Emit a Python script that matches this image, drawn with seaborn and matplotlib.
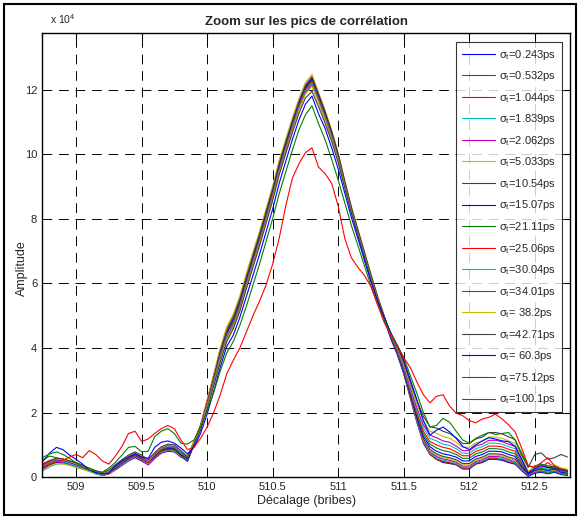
import numpy as np
import pandas as pd
import seaborn as sns
import matplotlib.pyplot as plt
from matplotlib.lines import Line2D
from matplotlib.patches import Rectangle

# decalage axis in bribes, one sample every 0.05 (81 samples)
decalage = np.linspace(508.75, 512.75, 81)

# amplitudes in units of 1e4
s_0243 = [0.25, 0.38, 0.45, 0.44, 0.40, 0.33, 0.28, 0.20, 0.12, 0.05,
          0.10, 0.22, 0.36, 0.50, 0.60, 0.50, 0.38, 0.58, 0.74, 0.80,
          0.78, 0.62, 0.52, 1.00, 1.50, 2.25, 3.05, 3.85, 4.50, 4.90,
          5.45, 6.15, 6.80, 7.45, 8.15, 8.85, 9.65, 10.30, 10.95, 11.55,
          12.05, 12.30, 11.75, 11.20, 10.60, 9.90, 9.05, 8.25, 7.55, 6.85,
          6.15, 5.50, 4.90, 4.30, 3.80, 3.20, 2.45, 1.70, 1.05, 0.70,
          0.55, 0.45, 0.42, 0.38, 0.25, 0.25, 0.40, 0.45, 0.55, 0.55,
          0.52, 0.45, 0.40, 0.20, 0.02, 0.12, 0.15, 0.10, 0.15, 0.08,
          0.05]
s_0532 = [0.55, 0.65, 0.60, 0.55, 0.48, 0.40, 0.32, 0.18, 0.10, 0.08,
          0.14, 0.28, 0.42, 0.58, 0.68, 0.58, 0.45, 0.66, 0.82, 0.88,
          0.85, 0.68, 0.58, 1.10, 1.60, 2.35, 3.10, 3.95, 4.60, 5.00,
          5.55, 6.25, 6.90, 7.55, 8.25, 8.95, 9.75, 10.40, 11.05, 11.65,
          12.10, 12.35, 11.85, 11.30, 10.70, 10.00, 9.15, 8.35, 7.65, 6.95,
          6.25, 5.60, 5.00, 4.40, 3.90, 3.28, 2.52, 1.78, 1.12, 0.72,
          0.55, 0.48, 0.44, 0.38, 0.28, 0.28, 0.42, 0.48, 0.58, 0.58,
          0.55, 0.48, 0.42, 0.22, 0.04, 0.14, 0.18, 0.12, 0.18, 0.10,
          0.08]
s_1044 = [0.40, 0.50, 0.55, 0.52, 0.45, 0.38, 0.30, 0.22, 0.14, 0.04,
          0.10, 0.24, 0.38, 0.52, 0.62, 0.52, 0.40, 0.60, 0.76, 0.82,
          0.80, 0.63, 0.55, 1.08, 1.62, 2.38, 3.15, 3.95, 4.62, 5.00,
          5.55, 6.25, 6.90, 7.55, 8.25, 8.95, 9.75, 10.40, 11.05, 11.65,
          12.12, 12.40, 11.85, 11.30, 10.70, 10.00, 9.15, 8.35, 7.65, 6.95,
          6.25, 5.60, 5.00, 4.40, 3.88, 3.28, 2.52, 1.76, 1.10, 0.72,
          0.56, 0.48, 0.45, 0.40, 0.28, 0.28, 0.42, 0.48, 0.58, 0.58,
          0.55, 0.48, 0.43, 0.24, 0.05, 0.20, 0.25, 0.30, 0.22, 0.15,
          0.12]
s_1839 = [0.20, 0.32, 0.40, 0.42, 0.38, 0.30, 0.25, 0.18, 0.10, 0.06,
          0.12, 0.24, 0.38, 0.52, 0.62, 0.54, 0.40, 0.60, 0.76, 0.83,
          0.80, 0.64, 0.54, 1.04, 1.55, 2.30, 3.10, 3.90, 4.55, 4.95,
          5.50, 6.20, 6.85, 7.50, 8.20, 8.92, 9.72, 10.38, 11.02, 11.62,
          12.12, 12.38, 11.82, 11.28, 10.68, 9.98, 9.12, 8.32, 7.62, 6.92,
          6.22, 5.57, 4.97, 4.37, 3.86, 3.26, 2.50, 1.75, 1.10, 0.74,
          0.60, 0.52, 0.48, 0.42, 0.30, 0.30, 0.45, 0.50, 0.60, 0.60,
          0.58, 0.50, 0.45, 0.25, 0.06, 0.16, 0.20, 0.16, 0.20, 0.12,
          0.10]
s_2062 = [0.28, 0.40, 0.48, 0.46, 0.40, 0.34, 0.28, 0.20, 0.12, 0.05,
          0.11, 0.24, 0.38, 0.53, 0.63, 0.53, 0.38, 0.58, 0.76, 0.84,
          0.81, 0.64, 0.50, 1.02, 1.52, 2.28, 3.08, 3.88, 4.52, 4.92,
          5.48, 6.18, 6.83, 7.48, 8.18, 8.90, 9.70, 10.36, 11.02, 11.64,
          12.15, 12.40, 11.85, 11.30, 10.68, 9.98, 9.12, 8.32, 7.62, 6.92,
          6.22, 5.57, 4.97, 4.37, 3.86, 3.26, 2.50, 1.76, 1.12, 0.78,
          0.64, 0.56, 0.52, 0.46, 0.34, 0.34, 0.48, 0.54, 0.64, 0.64,
          0.62, 0.54, 0.48, 0.26, 0.06, 0.15, 0.20, 0.16, 0.20, 0.12,
          0.10]
s_5033 = [0.22, 0.34, 0.42, 0.40, 0.36, 0.30, 0.24, 0.18, 0.12, 0.06,
          0.12, 0.25, 0.40, 0.55, 0.65, 0.55, 0.42, 0.62, 0.78, 0.85,
          0.82, 0.65, 0.55, 1.05, 1.58, 2.35, 3.18, 4.00, 4.65, 5.05,
          5.62, 6.32, 6.98, 7.62, 8.32, 9.02, 9.82, 10.48, 11.12, 11.72,
          12.22, 12.48, 11.92, 11.36, 10.76, 10.05, 9.20, 8.40, 7.70, 7.00,
          6.30, 5.62, 5.00, 4.40, 3.88, 3.28, 2.52, 1.78, 1.15, 0.82,
          0.68, 0.60, 0.56, 0.50, 0.38, 0.38, 0.52, 0.58, 0.68, 0.68,
          0.66, 0.58, 0.52, 0.28, 0.08, 0.18, 0.22, 0.18, 0.22, 0.14,
          0.12]
s_1054 = [0.32, 0.44, 0.52, 0.50, 0.44, 0.38, 0.32, 0.24, 0.16, 0.08,
          0.14, 0.26, 0.42, 0.56, 0.66, 0.56, 0.44, 0.62, 0.80, 0.86,
          0.84, 0.66, 0.48, 1.00, 1.52, 2.28, 3.08, 3.88, 4.52, 4.92,
          5.48, 6.18, 6.84, 7.50, 8.20, 8.90, 9.70, 10.35, 11.00, 11.60,
          12.10, 12.38, 11.86, 11.32, 10.70, 10.00, 9.15, 8.35, 7.65, 6.95,
          6.25, 5.58, 4.98, 4.38, 3.86, 3.26, 2.52, 1.80, 1.18, 0.86,
          0.72, 0.64, 0.60, 0.54, 0.42, 0.42, 0.56, 0.62, 0.72, 0.72,
          0.70, 0.62, 0.56, 0.30, 0.10, 0.35, 0.40, 0.30, 0.35, 0.25,
          0.20]
s_1507 = [0.35, 0.46, 0.55, 0.52, 0.46, 0.40, 0.32, 0.22, 0.14, 0.08,
          0.16, 0.30, 0.45, 0.60, 0.70, 0.60, 0.46, 0.66, 0.84, 0.90,
          0.88, 0.70, 0.56, 1.05, 1.52, 2.25, 3.02, 3.80, 4.45, 4.85,
          5.40, 6.10, 6.76, 7.42, 8.12, 8.82, 9.62, 10.28, 10.94, 11.55,
          12.05, 12.32, 11.80, 11.25, 10.65, 9.95, 9.12, 8.32, 7.62, 6.92,
          6.22, 5.56, 4.96, 4.38, 3.88, 3.30, 2.58, 1.88, 1.26, 0.94,
          0.80, 0.72, 0.68, 0.62, 0.50, 0.50, 0.64, 0.70, 0.80, 0.80,
          0.78, 0.70, 0.64, 0.34, 0.08, 0.20, 0.25, 0.20, 0.25, 0.15,
          0.12]
s_2111 = [0.38, 0.48, 0.56, 0.54, 0.48, 0.42, 0.34, 0.24, 0.16, 0.10,
          0.18, 0.32, 0.48, 0.62, 0.72, 0.62, 0.48, 0.68, 0.86, 0.92,
          0.90, 0.72, 0.60, 1.08, 1.55, 2.25, 3.00, 3.78, 4.42, 4.82,
          5.36, 6.06, 6.72, 7.38, 8.08, 8.78, 9.58, 10.24, 10.90, 11.52,
          12.02, 12.28, 11.76, 11.22, 10.62, 9.92, 9.10, 8.30, 7.60, 6.90,
          6.20, 5.55, 4.96, 4.38, 3.90, 3.33, 2.62, 1.94, 1.34, 1.02,
          0.90, 0.82, 0.78, 0.70, 0.58, 0.58, 0.72, 0.78, 0.88, 0.88,
          0.86, 0.78, 0.72, 0.40, 0.10, 0.22, 0.28, 0.22, 0.28, 0.18,
          0.15]
s_2506 = [0.42, 0.52, 0.58, 0.56, 0.50, 0.45, 0.36, 0.26, 0.18, 0.10,
          0.16, 0.30, 0.46, 0.60, 0.70, 0.60, 0.46, 0.68, 0.86, 0.94,
          0.92, 0.74, 0.62, 1.10, 1.58, 2.28, 3.00, 3.76, 4.40, 4.78,
          5.32, 6.02, 6.68, 7.34, 8.04, 8.74, 9.54, 10.20, 10.86, 11.48,
          11.98, 12.24, 11.72, 11.18, 10.58, 9.88, 9.06, 8.28, 7.58, 6.88,
          6.18, 5.54, 4.96, 4.40, 3.92, 3.36, 2.66, 2.00, 1.42, 1.10,
          1.00, 0.92, 0.88, 0.78, 0.66, 0.66, 0.80, 0.86, 0.96, 0.96,
          0.94, 0.86, 0.80, 0.45, 0.12, 0.25, 0.30, 0.45, 0.30, 0.20,
          0.18]
s_3004 = [0.30, 0.42, 0.50, 0.48, 0.42, 0.36, 0.30, 0.22, 0.14, 0.08,
          0.16, 0.32, 0.48, 0.62, 0.72, 0.62, 0.48, 0.70, 0.88, 0.96,
          0.94, 0.76, 0.62, 1.08, 1.55, 2.22, 2.95, 3.72, 4.36, 4.74,
          5.28, 5.98, 6.64, 7.30, 8.00, 8.70, 9.50, 10.16, 10.82, 11.44,
          11.94, 12.20, 11.68, 11.14, 10.55, 9.86, 9.04, 8.26, 7.56, 6.86,
          6.16, 5.53, 4.96, 4.42, 3.95, 3.40, 2.72, 2.08, 1.52, 1.20,
          1.12, 1.02, 0.98, 0.88, 0.74, 0.74, 0.88, 0.94, 1.05, 1.05,
          1.02, 0.94, 0.88, 0.50, 0.14, 0.24, 0.30, 0.25, 0.30, 0.20,
          0.18]
s_3401 = [0.34, 0.46, 0.54, 0.52, 0.46, 0.40, 0.32, 0.24, 0.16, 0.10,
          0.18, 0.34, 0.50, 0.64, 0.74, 0.64, 0.50, 0.72, 0.90, 0.98,
          0.96, 0.78, 0.64, 1.08, 1.52, 2.18, 2.90, 3.66, 4.30, 4.70,
          5.24, 5.94, 6.60, 7.26, 7.96, 8.66, 9.46, 10.12, 10.78, 11.40,
          11.90, 12.15, 11.64, 11.10, 10.52, 9.84, 9.02, 8.24, 7.54, 6.84,
          6.14, 5.52, 4.96, 4.44, 3.98, 3.44, 2.78, 2.16, 1.62, 1.30,
          1.22, 1.12, 1.08, 0.96, 0.82, 0.82, 0.96, 1.02, 1.14, 1.14,
          1.10, 1.02, 0.95, 0.55, 0.16, 0.30, 0.38, 0.30, 0.36, 0.26,
          0.22]
s_382 = [0.36, 0.48, 0.56, 0.54, 0.48, 0.42, 0.34, 0.26, 0.18, 0.12,
         0.20, 0.36, 0.52, 0.66, 0.76, 0.66, 0.52, 0.74, 0.92, 1.00,
         0.98, 0.80, 0.66, 1.08, 1.50, 2.15, 2.86, 3.62, 4.26, 4.66,
         5.20, 5.90, 6.56, 7.22, 7.92, 8.62, 9.42, 10.08, 10.74, 11.36,
         11.86, 12.10, 11.60, 11.06, 10.48, 9.80, 9.00, 8.22, 7.52, 6.82,
         6.12, 5.51, 4.96, 4.46, 4.02, 3.50, 2.86, 2.26, 1.74, 1.42,
         1.36, 1.26, 1.20, 1.08, 0.92, 0.92, 1.06, 1.12, 1.24, 1.24,
         1.20, 1.12, 1.04, 0.60, 0.18, 0.32, 0.40, 0.32, 0.38, 0.28,
         0.24]
s_4271 = [0.38, 0.50, 0.58, 0.56, 0.50, 0.44, 0.36, 0.28, 0.20, 0.14,
          0.22, 0.38, 0.54, 0.68, 0.78, 0.68, 0.54, 0.76, 0.94, 1.02,
          1.00, 0.82, 0.62, 1.02, 1.45, 2.10, 2.82, 3.56, 4.20, 4.60,
          5.14, 5.84, 6.50, 7.16, 7.86, 8.56, 9.36, 10.02, 10.66, 11.26,
          11.74, 11.95, 11.48, 10.96, 10.40, 9.74, 8.96, 8.20, 7.50, 6.80,
          6.10, 5.50, 4.96, 4.48, 4.06, 3.56, 2.94, 2.38, 1.88, 1.56,
          1.52, 1.42, 1.35, 1.22, 1.04, 1.04, 1.18, 1.24, 1.38, 1.38,
          1.34, 1.25, 1.16, 0.68, 0.30, 0.70, 0.75, 0.55, 0.60, 0.70,
          0.62]
s_603 = [0.50, 0.75, 0.92, 0.85, 0.68, 0.55, 0.40, 0.22, 0.14, 0.10,
         0.12, 0.35, 0.50, 0.62, 0.72, 0.62, 0.58, 0.92, 1.08, 1.12,
         1.05, 0.90, 0.72, 0.92, 1.35, 1.95, 2.65, 3.40, 4.05, 4.40,
         4.95, 5.60, 6.25, 6.90, 7.60, 8.30, 9.10, 9.78, 10.45, 11.05,
         11.55, 11.80, 11.25, 10.80, 10.20, 9.55, 8.80, 8.05, 7.40, 6.72,
         6.05, 5.45, 4.95, 4.48, 4.08, 3.62, 3.02, 2.40, 1.75, 1.30,
         1.45, 1.55, 1.40, 1.20, 0.95, 0.85, 1.00, 1.12, 1.22, 1.18,
         1.12, 1.10, 0.95, 0.55, 0.12, 0.25, 0.35, 0.30, 0.28, 0.22,
         0.18]
s_7512 = [0.62, 0.72, 0.78, 0.70, 0.58, 0.45, 0.30, 0.22, 0.18, 0.15,
          0.28, 0.45, 0.68, 0.92, 0.95, 0.78, 0.80, 1.25, 1.42, 1.50,
          1.35, 1.05, 1.02, 1.15, 1.55, 2.05, 2.62, 3.28, 3.85, 4.20,
          4.70, 5.30, 5.95, 6.60, 7.30, 8.00, 8.78, 9.45, 10.12, 10.75,
          11.22, 11.50, 10.95, 10.45, 9.85, 9.20, 8.50, 7.80, 7.18, 6.55,
          5.92, 5.35, 4.88, 4.45, 4.10, 3.70, 3.15, 2.60, 2.00, 1.55,
          1.60, 1.82, 1.70, 1.42, 1.15, 1.05, 1.20, 1.30, 1.38, 1.32,
          1.35, 1.38, 1.15, 0.75, 0.35, 0.30, 0.40, 0.35, 0.30, 0.25,
          0.20]
s_1001 = [0.30, 0.40, 0.48, 0.52, 0.62, 0.70, 0.60, 0.82, 0.70, 0.50,
          0.40, 0.65, 0.95, 1.35, 1.42, 1.10, 1.18, 1.35, 1.50, 1.60,
          1.50, 1.15, 0.85, 0.92, 1.20, 1.55, 2.00, 2.55, 3.20, 3.62,
          4.00, 4.50, 5.00, 5.45, 5.95, 6.60, 7.40, 8.40, 9.25, 9.70,
          10.05, 10.20, 9.60, 9.40, 9.10, 8.40, 7.40, 6.80, 6.50, 6.25,
          5.90, 5.35, 4.80, 4.40, 4.05, 3.70, 3.40, 2.95, 2.55, 2.30,
          2.50, 2.55, 2.20, 1.98, 1.90, 1.75, 1.68, 1.80, 1.85, 1.95,
          1.80, 1.62, 1.40, 0.90, 0.35, 0.30, 0.45, 0.60, 0.35, 0.25,
          0.20]

sigma_labels = ['0.243', '0.532', '1.044', '1.839', '2.062', '5.033', '10.54',
                '15.07', '21.11', '25.06', '30.04', '34.01', ' 38.2', '42.71',
                ' 60.3', '75.12', '100.1']
series = [s_0243, s_0532, s_1044, s_1839, s_2062, s_5033, s_1054, s_1507,
          s_2111, s_2506, s_3004, s_3401, s_382, s_4271, s_603, s_7512, s_1001]

# matlab default line order
matlab_cycle = ['#0000ff', '#008000', '#ff0000', '#00bfbf', '#bf00bf', '#bfbf00', '#404040']
palette = [matlab_cycle[i % 7] for i in range(len(series))]

legend_names = [r'$\mathregular{\sigma_t}$=' + s + 'ps' for s in sigma_labels]

frames = []
for name, vals in zip(legend_names, series):
    frames.append(pd.DataFrame({'decalage': decalage, 'amplitude': vals, 'sigma': name}))
df = pd.concat(frames, ignore_index=True)

sns.set_style('white')
plt.rcParams['font.family'] = ['Liberation Sans', 'DejaVu Sans']
plt.rcParams['mathtext.fontset'] = 'custom'
plt.rcParams['mathtext.rm'] = 'Liberation Sans'

fig = plt.figure(figsize=(5.81, 5.18), dpi=100)
ax = fig.add_axes([0.0723, 0.079, 0.909, 0.857])

sns.lineplot(data=df, x='decalage', y='amplitude', hue='sigma', palette=palette,
             estimator=None, sort=False, linewidth=0.8, legend=False, ax=ax)

ax.set_xlim(508.74, 512.77)
ax.set_ylim(0, 13.75)
ax.set_xticks([509, 509.5, 510, 510.5, 511, 511.5, 512, 512.5])
ax.set_xticklabels(['509', '509.5', '510', '510.5', '511', '511.5', '512', '512.5'])
ax.set_yticks([0, 2, 4, 6, 8, 10, 12])
ax.tick_params(direction='in', top=True, right=True, labelsize=8, length=4, width=0.8, color='k')
ax.grid(True, color='k', linestyle=(0, (10, 7)), linewidth=0.7)
ax.set_axisbelow(True)
for sp in ax.spines.values():
    sp.set_color('k')
    sp.set_linewidth(1.0)

ax.set_title('Zoom sur les pics de corrélation', fontsize=9.5, fontweight='bold', pad=6)
ax.set_xlabel('Décalage (bribes)', fontsize=9, labelpad=2)
ax.set_ylabel('Amplitude', fontsize=9)
ax.yaxis.set_label_coords(-0.027, 0.47)
fig.text(0.086, 0.953, r'x 10$^{\mathregular{4}}$', fontsize=7.5)

handles = [Line2D([0], [0], color=c, lw=0.8) for c in palette]
leg = ax.legend(handles, legend_names, loc='upper left', bbox_to_anchor=(0.784, 0.98),
                borderaxespad=0, fontsize=8, frameon=True, fancybox=False,
                handlelength=3.0, handletextpad=0.4, labelspacing=0.68,
                borderpad=0.5)
leg.get_frame().set_edgecolor('k')
leg.get_frame().set_linewidth(0.8)

fig.patches.append(Rectangle((0.007, 0.005), 0.984, 0.988, transform=fig.transFigure,
                             fill=False, edgecolor='k', linewidth=1.5))

fig.savefig('out.png', dpi=100)
